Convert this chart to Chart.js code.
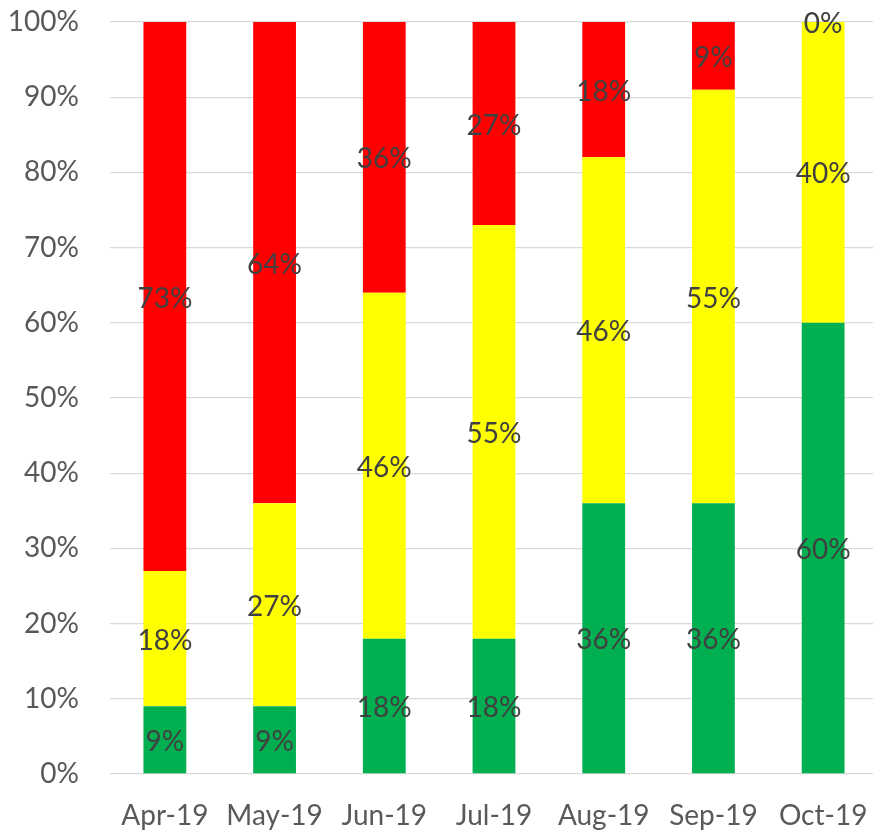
<!DOCTYPE html>
<html>
<head>
<meta charset="utf-8">
<script src="https://cdn.jsdelivr.net/npm/chart.js@4/dist/chart.umd.min.js"></script>
<style>
  html, body { margin: 0; padding: 0; background: #fff; overflow: hidden; }
  #wrap { width: 880px; height: 830px; }
</style>
</head>
<body>
<div id="wrap"><canvas id="c" width="880" height="830"></canvas></div>
<script>
// Monthly status shares (percent), stacked to 100%
const months = ['Apr-19', 'May-19', 'Jun-19', 'Jul-19', 'Aug-19', 'Sep-19', 'Oct-19'];
const greenShare  = [9, 9, 18, 18, 36, 36, 60];
const yellowShare = [18, 27, 46, 55, 46, 55, 40];
const redShare    = [73, 64, 36, 27, 18, 9, 0];
const yTicks = [0, 10, 20, 30, 40, 50, 60, 70, 80, 90, 100];

const FONT = 'Lato, "Open Sans", sans-serif';
const FONT_SIZE = 28;

// Writes each segment's value at the centre of its bar segment
const segmentLabels = {
  id: 'segmentLabels',
  afterDatasetsDraw(chart) {
    const ctx = chart.ctx;
    ctx.save();
    ctx.font = `${FONT_SIZE}px ${FONT}`;
    ctx.fillStyle = '#404040';
    ctx.textAlign = 'center';
    ctx.textBaseline = 'middle';
    chart.data.datasets.forEach((ds, i) => {
      const meta = chart.getDatasetMeta(i);
      meta.data.forEach((bar, j) => {
        const p = bar.getCenterPoint();
        ctx.fillText(ds.data[j] + '%', p.x, p.y + 2);
      });
    });
    ctx.restore();
  }
};

new Chart(document.getElementById('c'), {
  type: 'bar',
  data: {
    labels: months,
    datasets: [
      { label: 'Green', data: greenShare, backgroundColor: '#00b050' },
      { label: 'Yellow', data: yellowShare, backgroundColor: '#ffff00' },
      { label: 'Red', data: redShare, backgroundColor: '#ff0000' }
    ]
  },
  options: {
    responsive: false,
    animation: false,
    layout: { padding: { top: 22, right: 2, left: 0, bottom: 0 } },
    datasets: { bar: { barPercentage: 0.39, categoryPercentage: 1.0, borderWidth: 0 } },
    plugins: { legend: { display: false }, tooltip: { enabled: false } },
    scales: {
      x: {
        stacked: true,
        grid: { display: false },
        border: { display: false },
        ticks: { color: '#595959', font: { family: FONT, size: FONT_SIZE }, padding: 17, maxRotation: 0 },
        afterFit(scale) { scale.height = 56; scale.paddingLeft = 0; scale.paddingRight = 0; }
      },
      y: {
        stacked: true,
        min: 0,
        max: 100,
        afterBuildTicks(scale) { scale.ticks = yTicks.map(v => ({ value: v })); },
        grid: { color: '#d9d9d9', lineWidth: 1.3, drawTicks: false },
        border: { display: false },
        ticks: {
          color: '#595959',
          font: { family: FONT, size: FONT_SIZE },
          padding: 31,
          callback: v => v + '%'
        },
        afterFit(scale) { scale.width = 110; scale.paddingTop = 0; scale.paddingBottom = 0; }
      }
    }
  },
  plugins: [segmentLabels]
});
</script>
</body>
</html>
